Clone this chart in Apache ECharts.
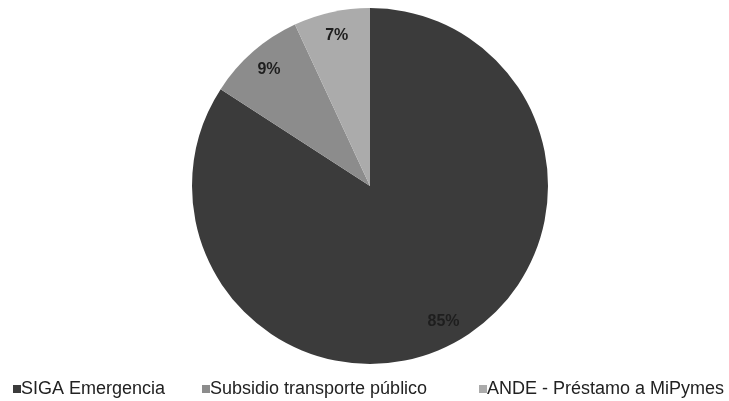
<!DOCTYPE html>
<html>
<head>
<meta charset="utf-8">
<script src="https://cdn.jsdelivr.net/npm/echarts@6/dist/echarts.min.js"></script>
<style>html,body{margin:0;padding:0;background:#fff;}#c{width:729px;height:401px;}</style>
</head>
<body>
<div id="c"></div>
<script>
var categories = ['SIGA Emergencia', 'Subsidio transporte público', 'ANDE - Préstamo a MiPymes'];
var values = [85, 9, 7];
var colors = ['#3b3b3b', '#8c8c8c', '#ababab'];

var chart = echarts.init(document.getElementById('c'), null, {renderer: 'canvas'});
var data = categories.map(function (n, i) { return {name: n, value: values[i], itemStyle: {color: colors[i]}}; });
var labelData = categories.map(function (n, i) { return {name: n, value: values[i]}; });
var legendLeft = [13, 202, 479];
var legends = categories.map(function (n, i) {
  return {
    data: [n], left: legendLeft[i], top: 380, orient: 'horizontal', padding: 0,
    icon: 'rect', itemWidth: 8, itemHeight: 8, itemGap: 0,
    selectedMode: false,
    textStyle: {fontFamily: 'Liberation Sans, Arial', fontSize: 18, color: '#222', padding: [0, 0, 0, -5]}
  };
});
chart.setOption({
  animation: false,
  backgroundColor: '#fff',
  legend: legends,
  series: [
    {
      type: 'pie', center: [370, 186], radius: [0, 178], startAngle: 90, clockwise: true,
      label: {show: false}, labelLine: {show: false}, silent: true,
      itemStyle: {borderWidth: 0},
      data: data
    },
    {
      type: 'pie', center: [370, 186], radius: [124, 178], startAngle: 90, clockwise: true,
      silent: true, legendHoverLink: false,
      itemStyle: {color: 'rgba(0,0,0,0)', borderWidth: 0},
      label: {show: true, position: 'inside', formatter: function (p) { return p.value + '%'; },
        fontFamily: 'Liberation Sans, Arial', fontWeight: 'bold', fontSize: 16, color: '#1e1e1e'},
      labelLine: {show: false},
      data: labelData
    }
  ]
});
</script>
</body>
</html>
